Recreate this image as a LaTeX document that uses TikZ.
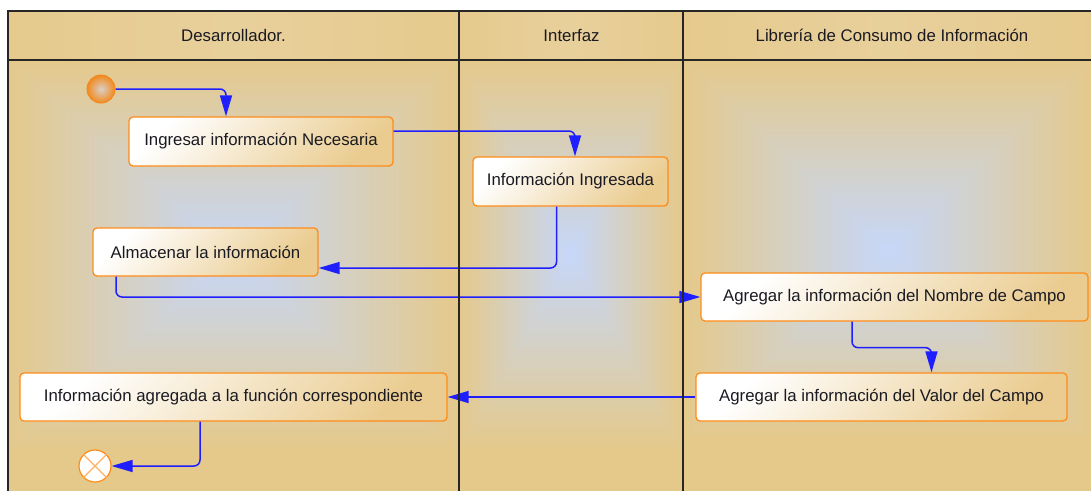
\documentclass[tikz,border=0pt]{standalone}
\usepackage{fontspec}
\setmainfont{Liberation Sans}
\usetikzlibrary{arrows.meta}

\definecolor{lanetan}{HTML}{E5C98B}
\definecolor{glowblue}{HTML}{C6D7F8}
\definecolor{headtan}{HTML}{E6CA8D}
\definecolor{headlight}{HTML}{E8D09C}
\definecolor{boxtan}{HTML}{EACC90}
\definecolor{boxedge}{HTML}{FF8C1A}
\definecolor{crossedge}{HTML}{FFB060}
\definecolor{initorange}{HTML}{F28A1E}
\definecolor{initcore}{HTML}{D9CFC8}
\definecolor{flowblue}{HTML}{1E1EFF}
\definecolor{frameline}{HTML}{262626}
\definecolor{labeltext}{HTML}{1A1A22}

\newcommand{\diagfont}{\fontsize{16.8pt}{19pt}\selectfont}

% rectangular glow: nested rectangles from the lane tan to a pale blue centre
% #1,#2 centre   #3,#4 half width / half height
\newcommand{\laneglow}[4]{%
  \foreach \k in {0,...,89}{%
    \pgfmathsetmacro{\glowf}{1-\k/90}%
    \pgfmathsetmacro{\glowp}{100*\k/89}%
    \fill[glowblue!\glowp!lanetan]
      ({#1-#3*\glowf},{#2-#4*\glowf}) rectangle ({#1+#3*\glowf},{#2+#4*\glowf});
  }}

\begin{document}
\begin{tikzpicture}[x=1pt,y=-1pt,
  act/.style={draw=boxedge, line width=1.3pt, rounded corners=4pt,
    top color=white, bottom color=boxtan, shading angle=45,
    inner sep=0pt, font=\diagfont, text=labeltext},
  lanehead/.style={font=\diagfont, text=labeltext, inner sep=0pt},
  flow/.style={draw=flowblue, line width=1.5pt, rounded corners=6pt,
    -{Triangle[length=21pt,width=12pt]}},
  frame/.style={draw=frameline, line width=1.4pt}]

\useasboundingbox (0,0) rectangle (1091,491);
\fill[white] (0,0) rectangle (1091,491);

% swimlane bodies with their soft central glow
\begin{scope}
  \clip (8,60) rectangle (459,491);
  \fill[lanetan] (8,60) rectangle (459,491);
  \laneglow{233}{255}{226}{195}
\end{scope}
\begin{scope}
  \clip (459,60) rectangle (683,491);
  \fill[lanetan] (459,60) rectangle (683,491);
  \laneglow{571}{255}{112}{195}
\end{scope}
\begin{scope}
  \clip (683,60) rectangle (1091,491);
  \fill[lanetan] (683,60) rectangle (1091,491);
  \laneglow{888}{250}{205}{190}
\end{scope}

% header band
\shade[left color=headtan, right color=headtan, middle color=headlight] (8,11) rectangle (459,60);
\shade[left color=headtan, right color=headtan, middle color=headlight] (459,11) rectangle (683,60);
\shade[left color=headtan, right color=headtan, middle color=headlight] (683,11) rectangle (1091,60);

\node[lanehead] (hdev) at (233.5,35.5) {Desarrollador.};
\node[lanehead] (hint) at (571.5,35.5) {Interfaz};
\node[lanehead] (hlib) at (892,35.5) {Librería de Consumo de Información};

% activities
\node[act, minimum width=264pt, minimum height=49pt] (b1) at (261,141.5) {Ingresar información Necesaria};
\node[act, minimum width=195pt, minimum height=49pt] (b2) at (570.5,181.5) {Información Ingresada};
\node[act, minimum width=225pt, minimum height=48pt] (b3) at (205.5,252) {Almacenar la información};
\node[act, minimum width=387pt, minimum height=48pt] (b4) at (894.5,297) {Agregar la información del Nombre de Campo};
\node[act, minimum width=371pt, minimum height=48pt] (b5) at (881.5,397) {Agregar la información del Valor del Campo};
\node[act, minimum width=427pt, minimum height=48pt] (b6) at (233.5,397) {Información agregada a la función correspondiente};

% initial and final states
\node[circle, minimum size=28pt, inner sep=0pt, draw=initorange, line width=1pt,
      inner color=initcore, outer color=initorange] (start) at (101,89) {};
\node[circle, minimum size=32pt, inner sep=0pt, draw=boxedge, fill=white, line width=1.2pt] (fin) at (95,466) {};
\draw[crossedge, line width=1.1pt] (fin.north east) -- (fin.south west)
                                   (fin.north west) -- (fin.south east);

% control flow
\draw[flow] (start.east) -| ([xshift=-35pt]b1.north);
\draw[flow] ([yshift=10.5pt]b1.east) -| ([xshift=4.5pt]b2.north);
\draw[flow] ([xshift=-14pt]b2.south) |- ([yshift=-16pt]b3.east);
\draw[flow] ([xshift=-89.5pt]b3.south) |- (b4.west);
\draw[flow] ([xshift=-42.5pt]b4.south) -- ++(0,26) -| ([xshift=50pt]b5.north);
\draw[flow] (b5.west) -- (b6.east);
\draw[flow] ([xshift=-33.5pt]b6.south) |- (fin.east);

% lane frame
\draw[frame] (1091,11) -- (8,11) -- (8,491);
\draw[frame] (8,60) -- (1091,60);
\draw[frame] (459,11) -- (459,491);
\draw[frame] (683,11) -- (683,491);
\end{tikzpicture}
\end{document}
